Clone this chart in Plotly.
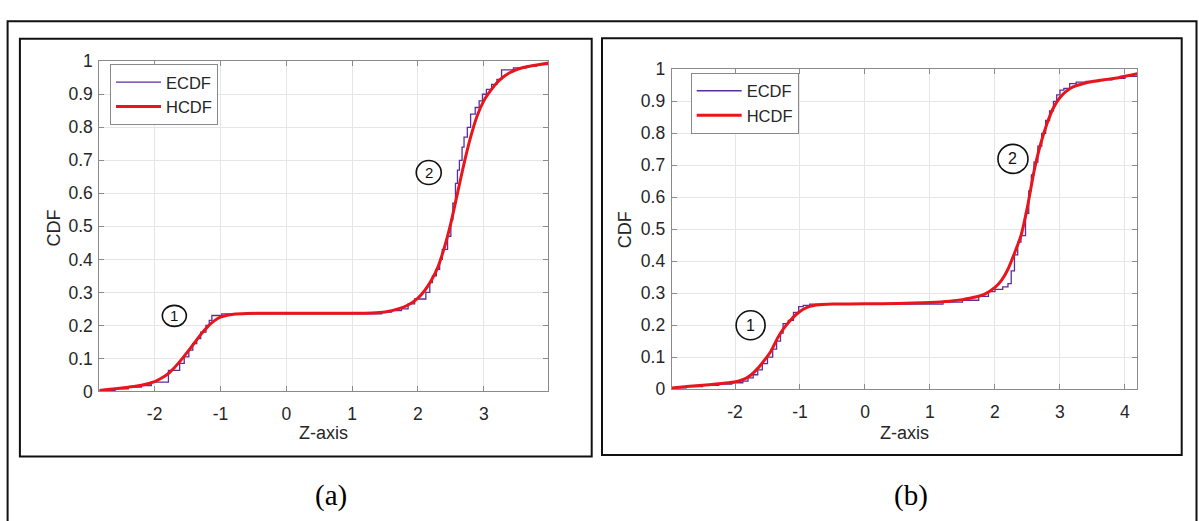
import plotly.graph_objects as go

W, H = 1199, 521

# ---------------- data ----------------
# panel (a)
hcdf_a_x = [-2.84, -2.6, -2.4, -2.2, -2.0, -1.9, -1.8, -1.7, -1.6, -1.5, -1.4, -1.3, -1.2, -1.1,
            -1.0, -0.9, -0.8, -0.6, -0.3, 0.0, 0.5, 1.0, 1.3, 1.5, 1.7, 1.85, 2.0, 2.1, 2.2, 2.3,
            2.4, 2.5, 2.6, 2.7, 2.8, 2.9, 3.0, 3.1, 3.2, 3.3, 3.4, 3.5, 3.6, 3.75, 3.98]
hcdf_a_y = [0.003, 0.008, 0.013, 0.019, 0.030, 0.040, 0.053, 0.072, 0.095, 0.120, 0.146, 0.172,
            0.195, 0.213, 0.225, 0.231, 0.234, 0.236, 0.237, 0.237, 0.237, 0.237, 0.238, 0.241,
            0.250, 0.262, 0.283, 0.305, 0.335, 0.375, 0.435, 0.510, 0.600, 0.690, 0.770, 0.835,
            0.880, 0.910, 0.935, 0.953, 0.966, 0.975, 0.981, 0.987, 0.995]

ecdf_a_x = [-2.84, -2.6, -2.4, -2.2, -2.05, -1.79, -1.62, -1.55, -1.48, -1.42, -1.36, -1.30,
            -1.22, -1.17, -1.13, -0.98, 1.45, 1.60, 1.75, 1.85, 1.95, 2.12, 2.18, 2.22, 2.28,
            2.33, 2.37, 2.45, 2.50, 2.53, 2.57, 2.60, 2.63, 2.67, 2.70, 2.75, 2.80, 2.87, 2.93,
            2.98, 3.04, 3.12, 3.20, 3.27, 3.45, 3.65, 3.80, 3.98]
ecdf_a_y = [0.003, 0.008, 0.013, 0.018, 0.028, 0.064, 0.085, 0.105, 0.125, 0.145, 0.160, 0.180,
            0.200, 0.215, 0.230, 0.235, 0.240, 0.245, 0.250, 0.265, 0.280, 0.300, 0.330, 0.350,
            0.370, 0.400, 0.430, 0.470, 0.520, 0.570, 0.630, 0.670, 0.700, 0.740, 0.770, 0.800,
            0.840, 0.860, 0.880, 0.900, 0.915, 0.930, 0.945, 0.974, 0.980, 0.985, 0.990, 0.995]

# panel (b)
hcdf_b_x = [-2.97, -2.7, -2.4, -2.1, -1.95, -1.85, -1.75, -1.65, -1.55, -1.45, -1.35, -1.25,
            -1.15, -1.05, -0.95, -0.85, -0.7, -0.5, 0.0, 0.5, 1.0, 1.3, 1.5, 1.7, 1.85, 2.0, 2.1,
            2.2, 2.3, 2.4, 2.5, 2.6, 2.7, 2.8, 2.9, 3.0, 3.1, 3.2, 3.35, 3.5, 3.7, 3.9, 4.19]
hcdf_b_y = [0.004, 0.009, 0.014, 0.020, 0.025, 0.032, 0.045, 0.065, 0.090, 0.118, 0.158, 0.190,
            0.215, 0.235, 0.250, 0.259, 0.264, 0.266, 0.267, 0.268, 0.271, 0.275, 0.280, 0.288,
            0.298, 0.318, 0.340, 0.375, 0.425, 0.480, 0.570, 0.680, 0.765, 0.830, 0.880, 0.912,
            0.932, 0.945, 0.955, 0.962, 0.968, 0.974, 0.986]

ecdf_b_x = [-2.97, -2.75, -2.5, -2.25, -2.05, -1.88, -1.80, -1.72, -1.65, -1.58, -1.50, -1.42,
            -1.36, -1.30, -1.26, -1.18, -1.10, -1.02, -0.95, -0.85, 1.20, 1.50, 1.75, 1.90, 2.00,
            2.12, 2.20, 2.25, 2.30, 2.35, 2.40, 2.47, 2.52, 2.56, 2.60, 2.66, 2.72, 2.78, 2.84,
            2.90, 2.95, 3.00, 3.06, 3.15, 3.25, 3.40, 3.60, 3.80, 4.00, 4.19]
ecdf_b_y = [0.004, 0.008, 0.012, 0.016, 0.020, 0.025, 0.035, 0.045, 0.060, 0.080, 0.100, 0.125,
            0.150, 0.175, 0.205, 0.215, 0.240, 0.258, 0.262, 0.266, 0.272, 0.278, 0.290, 0.305,
            0.312, 0.320, 0.330, 0.370, 0.420, 0.460, 0.480, 0.550, 0.620, 0.670, 0.710, 0.760,
            0.800, 0.840, 0.870, 0.900, 0.920, 0.935, 0.940, 0.955, 0.960, 0.962, 0.967, 0.972,
            0.978, 0.985]

y_ticks = [0, 0.1, 0.2, 0.3, 0.4, 0.5, 0.6, 0.7, 0.8, 0.9, 1]
y_tick_labels = ["0", "0.1", "0.2", "0.3", "0.4", "0.5", "0.6", "0.7", "0.8", "0.9", "1"]
x_ticks_a = [-2, -1, 0, 1, 2, 3]
x_tick_labels_a = ["-2", "-1", "0", "1", "2", "3"]
x_ticks_b = [-2, -1, 0, 1, 2, 3, 4]
x_tick_labels_b = ["-2", "-1", "0", "1", "2", "3", "4"]
x_range_a = [-2.84, 3.98]
x_range_b = [-2.974, 4.19]

# ---------------- styling ----------------
ECDF_COLOR = "#5b2d9e"
HCDF_COLOR = "#e8161b"
AXIS_COLOR = "#8a8a8a"
GRID_COLOR = "#e6e6e6"
TEXT_COLOR = "#262626"
SANS = "Liberation Sans, Arial, sans-serif"
SERIF = "Liberation Serif, Times New Roman, serif"
TICK_SIZE = 17.5
LEGEND_SIZE = 16.5
TITLE_SIZE = 18


def px_x(px):
    return px / W


def px_y(py):
    return 1 - py / H


fig = go.Figure()

fig.add_trace(go.Scatter(x=ecdf_a_x, y=ecdf_a_y, mode="lines", name="ECDF",
                         line=dict(color=ECDF_COLOR, width=1.3, shape="hv"),
                         xaxis="x", yaxis="y", legend="legend"))
fig.add_trace(go.Scatter(x=hcdf_a_x, y=hcdf_a_y, mode="lines", name="HCDF",
                         line=dict(color=HCDF_COLOR, width=3, shape="spline", smoothing=0.6),
                         xaxis="x", yaxis="y", legend="legend"))
fig.add_trace(go.Scatter(x=ecdf_b_x, y=ecdf_b_y, mode="lines", name="ECDF",
                         line=dict(color=ECDF_COLOR, width=1.3, shape="hv"),
                         xaxis="x2", yaxis="y2", legend="legend2"))
fig.add_trace(go.Scatter(x=hcdf_b_x, y=hcdf_b_y, mode="lines", name="HCDF",
                         line=dict(color=HCDF_COLOR, width=3, shape="spline", smoothing=0.6),
                         xaxis="x2", yaxis="y2", legend="legend2"))


def axis_style(**kw):
    base = dict(
        showline=True, linecolor=AXIS_COLOR, linewidth=1, mirror="allticks",
        ticks="inside", ticklen=5, tickcolor=AXIS_COLOR, tickwidth=1,
        showgrid=True, gridcolor=GRID_COLOR, gridwidth=1, zeroline=False,
        tickfont=dict(family=SANS, size=TICK_SIZE, color=TEXT_COLOR),
        tickmode="array", fixedrange=True,
    )
    base.update(kw)
    return base


# plot-area pixel boxes: (left, top, right, bottom)
area_a = (99.3, 53.3, 548.3, 396.7)
area_b = (671.7, 61.7, 1137.3, 394.3)

legend_style = dict(xanchor="left", yanchor="top",
                    bgcolor="white", bordercolor=AXIS_COLOR, borderwidth=1,
                    font=dict(family=SANS, size=LEGEND_SIZE, color=TEXT_COLOR),
                    tracegroupgap=0, itemclick=False, itemdoubleclick=False,
                    itemwidth=45)

fig.update_layout(
    width=W, height=H, autosize=False,
    margin=dict(l=0, r=0, t=0, b=0),
    paper_bgcolor="white", plot_bgcolor="white",
    xaxis=axis_style(domain=[px_x(area_a[0]), px_x(area_a[2])], range=x_range_a,
                     tickvals=x_ticks_a, ticktext=x_tick_labels_a, anchor="y",
                     ticklabelstandoff=7),
    yaxis=axis_style(domain=[px_y(area_a[3]), px_y(area_a[1])], range=[0, 1],
                     tickvals=y_ticks, ticktext=y_tick_labels, anchor="x",
                     ticklabelstandoff=2),
    xaxis2=axis_style(domain=[px_x(area_b[0]), px_x(area_b[2])], range=x_range_b,
                      tickvals=x_ticks_b, ticktext=x_tick_labels_b, anchor="y2",
                      ticklabelstandoff=7),
    yaxis2=axis_style(domain=[px_y(area_b[3]), px_y(area_b[1])], range=[0, 1],
                      tickvals=y_ticks, ticktext=y_tick_labels, anchor="x2",
                      ticklabelstandoff=2),
    legend=dict(x=px_x(110), y=px_y(56), **legend_style),
    legend2=dict(x=px_x(690.7), y=px_y(65), **legend_style),
    showlegend=True,
)

shapes = []
# outer frame and panel frames
frames = [
    (7.6, 11.7, 1196.5, 540, 2),
    (19.9, 30.0, 591.7, 464.3, 2),
    (602.0, 29.3, 1181.7, 462.7, 2),
]
for x0, y0, x1, y1, w in frames:
    shapes.append(dict(type="rect", xref="paper", yref="paper",
                       x0=px_x(x0), x1=px_x(x1), y0=px_y(y1), y1=px_y(y0),
                       line=dict(color="#111111", width=w), fillcolor="rgba(0,0,0,0)",
                       layer="above"))

# circled region markers: (xref, yref, x, y, label, width, height, font size)
markers = [
    ("x", "y", -1.70, 0.229, "1", 24, 21, 15),
    ("x", "y", 2.164, 0.663, "2", 25, 24, 15),
    ("x2", "y2", -1.76, 0.200, "1", 29, 29, 16),
    ("x2", "y2", 2.277, 0.720, "2", 30, 29, 16),
]
annotations = []
for xr, yr, mx, my, label, cw, ch, fs in markers:
    shapes.append(dict(type="circle", xref=xr, yref=yr, xsizemode="pixel", ysizemode="pixel",
                       xanchor=mx, yanchor=my, x0=-cw / 2, x1=cw / 2, y0=-ch / 2, y1=ch / 2,
                       line=dict(color="#111111", width=1.6), fillcolor="rgba(0,0,0,0)"))
    annotations.append(dict(xref=xr, yref=yr, x=mx, y=my, text=label, showarrow=False,
                            font=dict(family=SANS, size=fs, color="#111111"),
                            xanchor="center", yanchor="middle"))

# axis titles and panel captions
labels = [
    (323.3, 440.0, "Z-axis", TITLE_SIZE, SANS, 0),
    (904.4, 440.0, "Z-axis", TITLE_SIZE, SANS, 0),
    (53.6, 226.7, "CDF", TITLE_SIZE, SANS, -90),
    (624.8, 228.3, "CDF", TITLE_SIZE, SANS, -90),
    (331.0, 505.0, "(a)", 29, SERIF, 0),
    (911.0, 505.0, "(b)", 29, SERIF, 0),
]
for lx, ly, text, fs, fam, ang in labels:
    annotations.append(dict(xref="paper", yref="paper", x=px_x(lx), y=px_y(ly), text=text,
                            showarrow=False, textangle=ang, xanchor="center", yanchor="middle",
                            font=dict(family=fam, size=fs,
                                      color=TEXT_COLOR if fam == SANS else "#000000")))

fig.update_layout(shapes=shapes, annotations=annotations)

fig.write_html("out.html", config={"displayModeBar": False})
